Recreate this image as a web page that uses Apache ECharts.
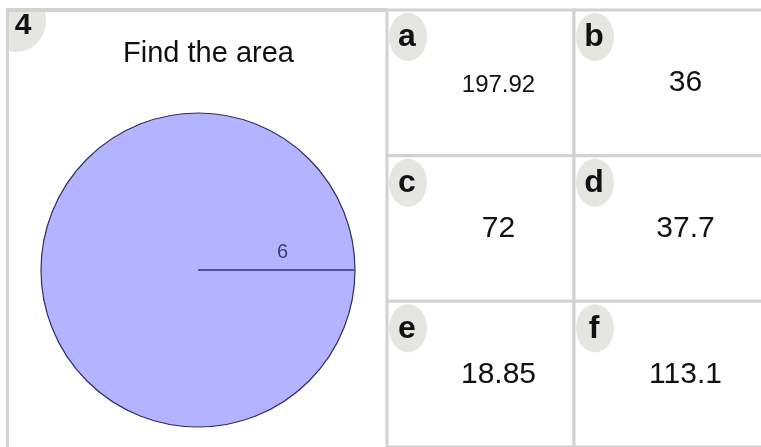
<!DOCTYPE html>
<html lang="en">
  <head>
    <meta charset="UTF-8" />
    <script src="https://cdn.jsdelivr.net/npm/echarts@6/dist/echarts.min.js"></script>
    <title>Find the area</title>
    <style>
      html, body { margin: 0; padding: 0; background: #fff; }
    </style>
  </head>
  <body>
    <div id="container" style="width: 761px; height: 447px;"></div>

    <script>
      // question data
      const questionNumber = "4";
      const questionText = "Find the area";
      const radius = 6;

      // answer choices
      const letters = ["a", "b", "c", "d", "e", "f"];
      const answers = ["197.92", "36", "72", "37.7", "18.85", "113.1"];

      const font = "'Liberation Sans', Arial, sans-serif";
      const gridGray = "#d2d2d2";
      const badgeGray = "#e6e6e1";

      const myChart = echarts.init(document.getElementById("container"));

      // 2 columns x 3 rows of answer cells
      const cellData = answers.map((a, i) => [i % 2, Math.floor(i / 2)]);

      function renderCircle(params, api) {
        const c = api.coord([0, 0]);
        const r = api.size([api.value(2), 0])[0];
        return {
          type: "circle",
          shape: { cx: c[0], cy: c[1], r: r },
          style: { fill: "#b3b3ff", stroke: "#2e2e66", lineWidth: 1.2 },
        };
      }

      function renderCell(params, api) {
        const i = params.dataIndex;
        const col = api.value(0);
        const c = api.coord([col, api.value(1)]);
        const s = api.size([1, 1]);
        const x0 = c[0] - s[0] / 2;
        const y0 = c[1] - s[1] / 2;
        // last column runs off the right edge, like the source page
        const w = col === 1 ? s[0] + 6 : s[0];
        const txt = answers[i];
        const fs = txt.length > 5 ? 24 : 30;
        return {
          type: "group",
          children: [
            {
              type: "rect",
              shape: { x: x0, y: y0, width: w, height: s[1] },
              style: { fill: "#fff", stroke: gridGray, lineWidth: 3 },
            },
            {
              type: "ellipse",
              shape: { cx: x0 + 21, cy: y0 + 27, rx: 19, ry: 24 },
              style: { fill: badgeGray },
            },
            {
              type: "text",
              style: {
                text: letters[i],
                x: x0 + 20,
                y: y0 + 39 - 0.36 * 32,
                align: "center",
                verticalAlign: "middle",
                font: "bold 32px " + font,
                fill: "#111",
              },
            },
            {
              type: "text",
              style: {
                text: txt,
                x: c[0] + 18,
                y: y0 + 84 - 0.36 * fs,
                align: "center",
                verticalAlign: "middle",
                font: fs + "px " + font,
                fill: "#111",
              },
            },
          ],
        };
      }

      const option = {
        backgroundColor: "#fff",
        animation: false,
        grid: [
          { left: 41, top: 113, width: 314, height: 314 },
          { left: 387, top: 10, width: 375, height: 437 },
        ],
        xAxis: [
          { type: "value", min: -radius, max: radius, show: false, gridIndex: 0 },
          { type: "category", data: ["0", "1"], show: false, gridIndex: 1 },
        ],
        yAxis: [
          { type: "value", min: -radius, max: radius, show: false, gridIndex: 0 },
          { type: "category", data: ["0", "1", "2"], inverse: true, show: false, gridIndex: 1 },
        ],
        graphic: [
          {
            type: "ellipse",
            shape: { cx: 16, cy: 21, rx: 30, ry: 31 },
            style: { fill: badgeGray },
            z: 1,
          },
          { type: "rect", shape: { x: 0, y: 0, width: 6, height: 447 }, style: { fill: "#fff" }, z: 2 },
          { type: "rect", shape: { x: 0, y: 0, width: 390, height: 8 }, style: { fill: "#fff" }, z: 2 },
          { type: "rect", shape: { x: 6, y: 8, width: 3, height: 439 }, style: { fill: gridGray }, z: 3 },
          { type: "rect", shape: { x: 6, y: 8, width: 382, height: 4 }, style: { fill: gridGray }, z: 3 },
          {
            type: "text",
            z: 4,
            style: {
              text: questionNumber,
              x: 23,
              y: 26,
              align: "center",
              verticalAlign: "middle",
              font: "bold 30px " + font,
              fill: "#111",
            },
          },
          {
            type: "text",
            z: 4,
            style: {
              text: questionText,
              x: 208.5,
              y: 54,
              align: "center",
              verticalAlign: "middle",
              font: "29px " + font,
              fill: "#111",
            },
          },
        ],
        series: [
          {
            type: "custom",
            xAxisIndex: 0,
            yAxisIndex: 0,
            renderItem: renderCircle,
            data: [[0, 0, radius]],
            z: 1,
          },
          {
            type: "line",
            xAxisIndex: 0,
            yAxisIndex: 0,
            data: [[0, 0], [radius, 0]],
            symbol: "none",
            lineStyle: { color: "#5252a6", width: 2 },
            z: 2,
          },
          {
            type: "scatter",
            xAxisIndex: 0,
            yAxisIndex: 0,
            data: [[radius / 2, 0]],
            symbolSize: 0,
            label: {
              show: true,
              position: "inside",
              offset: [6, -18],
              formatter: String(radius),
              fontSize: 20,
              fontFamily: font,
              color: "#1c1c50",
            },
            z: 3,
          },
          {
            type: "custom",
            xAxisIndex: 1,
            yAxisIndex: 1,
            renderItem: renderCell,
            data: cellData,
            clip: false,
          },
        ],
      };

      myChart.setOption(option);
    </script>
  </body>
</html>
